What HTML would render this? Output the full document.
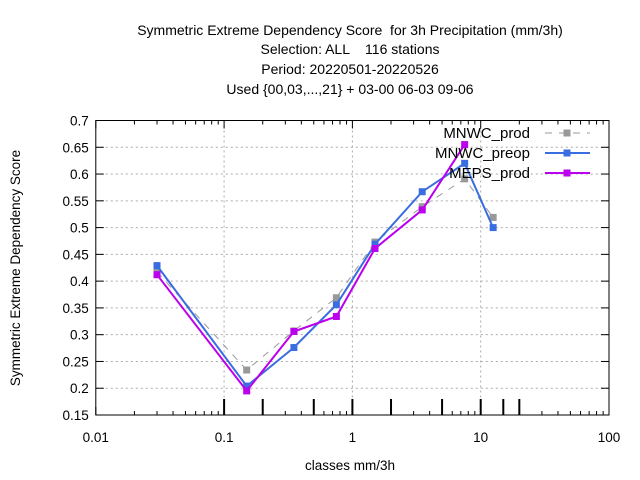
<!DOCTYPE html>
<html><head><meta charset="utf-8"><style>
html,body{margin:0;padding:0;background:#fff;}
svg{display:block;font-family:"Liberation Sans",sans-serif;}
text{white-space:pre;}
</style></head><body>
<svg id="chart" width="640" height="480" viewBox="0 0 640 480">
<g font-size="14" text-anchor="middle" fill="#000">
<text x="350" y="35" xml:space="preserve">Symmetric Extreme Dependency Score  for 3h Precipitation (mm/3h)</text>
<text x="350" y="54" xml:space="preserve">Selection: ALL    116 stations</text>
<text x="350" y="74">Period: 20220501-20220526</text>
<text x="350" y="94">Used {00,03,...,21} + 03-00 06-03 09-06</text>
</g>
<g id="grid"></g>
<g id="axes"></g>
<g id="series"></g>
<text x="350" y="470" font-size="13.5" text-anchor="middle">classes mm/3h</text>
<text transform="translate(20,268) rotate(-90)" font-size="13.5" text-anchor="middle">Symmetric Extreme Dependency Score</text>
<g id="legend"></g>
</svg>
<script>
const classes=[0.03,0.15,0.35,0.75,1.5,3.5,7.5,12.5];
const mnwcProd=[0.417,0.234,0.307,0.369,0.473,0.539,0.591,0.519];
const mnwcPreop=[0.429,0.204,0.276,0.356,0.469,0.567,0.620,0.500];
const mepsProd=[0.412,0.195,0.306,0.334,0.461,0.533,0.655];
const yTicks=[0.15,0.2,0.25,0.3,0.35,0.4,0.45,0.5,0.55,0.6,0.65,0.7];
const xTicks=[0.01,0.1,1,10,100];
const xTickLabels=["0.01","0.1","1","10","100"];
const classBounds=[0.1,0.2,0.5,1,2,5,10,15,20];
const NS="http://www.w3.org/2000/svg";
const L=95.8,R=609,T=120.5,B=415;
function xs(v){return L+(Math.log10(v)+2)/4*(R-L);}
function ys(v){return B-(v-0.15)/0.55*(B-T);}
function mk(tag,attrs,parent){const e=document.createElementNS(NS,tag);for(const k in attrs)e.setAttribute(k,attrs[k]);parent.appendChild(e);return e;}
const grid=document.getElementById('grid'),axes=document.getElementById('axes'),series=document.getElementById('series'),legend=document.getElementById('legend');
yTicks.forEach(v=>{
 const y=ys(v);
 if(v>0.15&&v<0.7){const g=mk('line',{x1:L,x2:R,y1:y,y2:y,stroke:'#aaa','stroke-dasharray':'2,3','stroke-width':1},grid);
 
 }
 const t1=mk('line',{x1:L,x2:L+8,y1:y,y2:y,stroke:'#000'},axes);
 
 
 mk('line',{x1:R,x2:R-8,y1:y,y2:y,stroke:'#000'},axes);
 const lb=mk('text',{x:L-7,y:y+5,'text-anchor':'end','font-size':13.5},axes);lb.textContent=String(v);
 
 
});
xTicks.forEach((v,i)=>{
 const x=xs(v);
 if(v>0.01&&v<100){const g=mk('line',{x1:x,x2:x,y1:T,y2:B,stroke:'#aaa','stroke-dasharray':'2,3'},grid);
 
 }
 mk('line',{x1:x,x2:x,y1:B,y2:B-8,stroke:'#000'},axes);
 mk('line',{x1:x,x2:x,y1:T,y2:T+8,stroke:'#000'},axes);
 const lb=mk('text',{x:x,y:B+27,'text-anchor':'middle','font-size':13.5},axes);lb.textContent=xTickLabels[i];
 
 
 if(i<xTicks.length-1){for(let m=2;m<=9;m++){const mx=xs(v*m);
  mk('line',{x1:mx,x2:mx,y1:B,y2:B-4,stroke:'#000'},axes);
  mk('line',{x1:mx,x2:mx,y1:T,y2:T+4,stroke:'#000'},axes);}}
});
classBounds.forEach(v=>{const x=xs(v);const t=mk('line',{x1:x,x2:x,y1:B-16,y2:B,stroke:'#000','stroke-width':2},axes);
 
 });
const frame=mk('rect',{x:L,y:T,width:R-L,height:B-T,fill:'none',stroke:'#000'},axes);


const defs=[{n:'MNWC_prod',d:mnwcProd,c:'#999',dash:'7,7',w:1,name:'series-mnwc-prod'},
{n:'MNWC_preop',d:mnwcPreop,c:'#3a6ee0',dash:'',w:2,name:'series-mnwc-preop'},
{n:'MEPS_prod',d:mepsProd,c:'#bb00ee',dash:'',w:2,name:'series-meps-prod'}];
defs.forEach((s,si)=>{
 const g=mk('g',{},series);
 
 
 const pts=s.d.map((v,i)=>xs(classes[i]).toFixed(1)+','+ys(v).toFixed(1)).join(' ');
 const pl=mk('polyline',{points:pts,fill:'none',stroke:s.c,'stroke-width':s.w,'stroke-dasharray':s.dash},g);
 
 
 s.d.forEach((v,i)=>{const r=mk('rect',{x:xs(classes[i])-3.5,y:ys(v)-3.5,width:7,height:7,fill:s.c},g);
  
  });
 const ly=133+si*20;
 const lt=mk('text',{x:530,y:ly+5,'text-anchor':'end','font-size':15},legend);lt.textContent=s.n;
 
 
 const ll=mk('line',{x1:545,x2:590,y1:ly,y2:ly,stroke:s.c,'stroke-width':s.w,'stroke-dasharray':s.dash},legend);
 
 
 mk('rect',{x:563.5,y:ly-3.5,width:7,height:7,fill:s.c},legend);
});
</script>
</body></html>
